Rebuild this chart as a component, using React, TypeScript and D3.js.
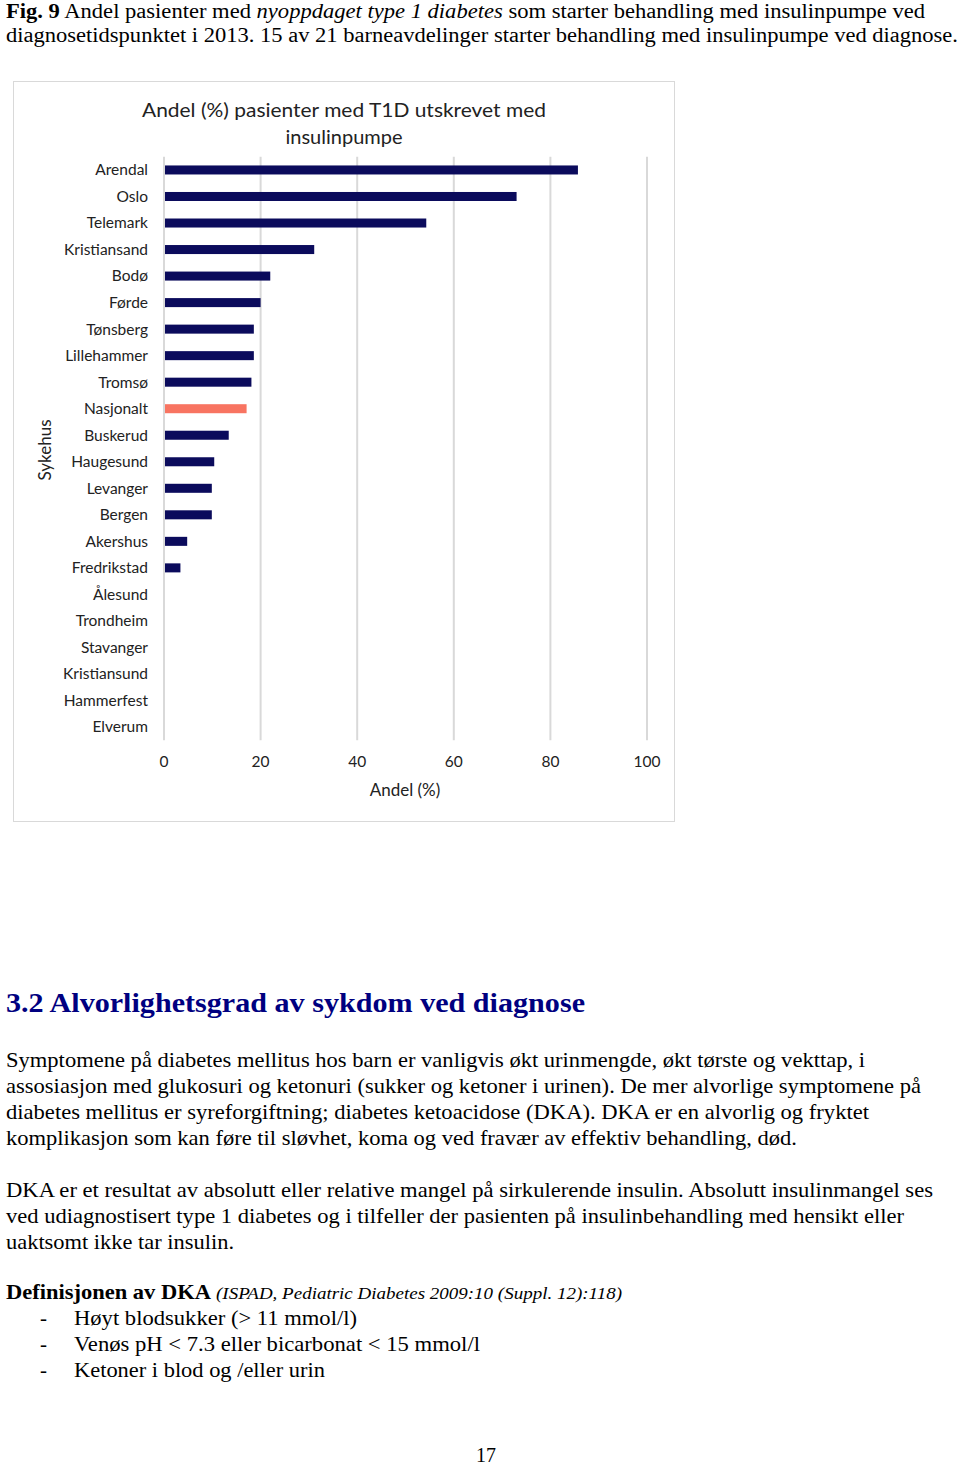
import React from "react";
import * as d3 from "d3";

const categories = [
  "Arendal", "Oslo", "Telemark", "Kristiansand", "Bodø", "Førde", "Tønsberg",
  "Lillehammer", "Tromsø", "Nasjonalt", "Buskerud", "Haugesund", "Levanger",
  "Bergen", "Akershus", "Fredrikstad", "Ålesund", "Trondheim", "Stavanger",
  "Kristiansund", "Hammerfest", "Elverum",
];
const values = [
  85.7, 73.0, 54.3, 31.1, 22.0, 20.0, 18.6, 18.6, 18.1, 17.1, 13.4, 10.4,
  9.9, 9.9, 4.8, 3.4, 0, 0, 0, 0, 0, 0,
];
const highlight = "Nasjonalt";
const xTicks = [0, 20, 40, 60, 80, 100];

const chartTitle = ["Andel (%) pasienter med T1D utskrevet med", "insulinpumpe"];
const xAxisTitle = "Andel (%)";
const yAxisTitle = "Sykehus";

const para1 = [
  "Symptomene på diabetes mellitus hos barn er vanligvis økt urinmengde, økt tørste og vekttap, i",
  "assosiasjon med glukosuri og ketonuri (sukker og ketoner i urinen). De mer alvorlige symptomene på",
  "diabetes mellitus er syreforgiftning; diabetes ketoacidose (DKA). DKA er en alvorlig og fryktet",
  "komplikasjon som kan føre til sløvhet, koma og ved fravær av effektiv behandling, død.",
];
const para1Widths = [859, 915, 863, 791];
const para2 = [
  "DKA er et resultat av absolutt eller relative mangel på sirkulerende insulin. Absolutt insulinmangel ses",
  "ved udiagnostisert type 1 diabetes og i tilfeller der pasienten på insulinbehandling med hensikt eller",
  "uaktsomt ikke tar insulin.",
];
const para2Widths = [927, 898, 228];
const listItems = [
  "Høyt blodsukker (> 11 mmol/l)",
  "Venøs pH < 7.3 eller bicarbonat < 15 mmol/l",
  "Ketoner i blod og /eller urin",
];
const listWidths = [283, 406, 251];

const SERIF = "'Liberation Serif', 'Times New Roman', serif";
const SANS = "Lato, Carlito, Calibri, sans-serif";

export default function App() {
  const x = d3.scaleLinear().domain([0, 100]).range([164, 647]);
  const y = d3
    .scaleBand<string>()
    .domain(categories)
    .range([156.7, 740.3])
    .paddingInner(0.66)
    .paddingOuter(0.33);

  return (
    <svg
      width={960}
      height={1468}
      style={{ position: "absolute", left: 0, top: 0, background: "#fff" }}
    >
      <rect x={0} y={0} width={960} height={1468} fill="#fff" />
      {/* Caption */}
      <text x={6} y={18} fontFamily={SERIF} fontSize={20} textLength={919} lengthAdjust="spacingAndGlyphs">
        <tspan fontWeight="bold">Fig. 9</tspan>
        <tspan> Andel pasienter med </tspan>
        <tspan fontStyle="italic">nyoppdaget type 1 diabetes</tspan>
        <tspan> som starter behandling med insulinpumpe ved</tspan>
      </text>
      <text x={6} y={42} fontFamily={SERIF} fontSize={20.5} textLength={952} lengthAdjust="spacingAndGlyphs">
        diagnosetidspunktet i 2013. 15 av 21 barneavdelinger starter behandling med insulinpumpe ved diagnose.
      </text>

      {/* Chart box */}
      <rect x={13.5} y={81.5} width={661} height={740} fill="#fff" stroke="#d9d9d9" strokeWidth={1} />
      <text x={344} y={117} textAnchor="middle" fontFamily={SANS} fontSize={20} fill="#222" textLength={404} lengthAdjust="spacingAndGlyphs">
        {chartTitle[0]}
      </text>
      <text x={344} y={144} textAnchor="middle" fontFamily={SANS} fontSize={20} fill="#222">
        {chartTitle[1]}
      </text>

      {/* Gridlines */}
      {xTicks.map((t) => (
        <line
          key={"g" + t}
          x1={x(t)}
          x2={x(t)}
          y1={156.7}
          y2={740.3}
          stroke="#d9d9d9"
          strokeWidth={2}
        />
      ))}

      {/* Bars */}
      {categories.map((c, i) => (
        <rect
          key={c}
          x={x(0) + 1}
          y={y(c)}
          width={Math.max(0, x(values[i]) - x(0) - 1)}
          height={y.bandwidth()}
          fill={c === highlight ? "#f87461" : "#0b0b5c"}
        />
      ))}

      {/* Category labels */}
      {categories.map((c) => (
        <text
          key={"l" + c}
          x={148}
          y={(y(c) as number) + y.bandwidth() / 2}
          dy="0.35em"
          textAnchor="end"
          fontFamily={SANS}
          fontSize={15.5}
          fill="#222"
        >
          {c}
        </text>
      ))}

      {/* X ticks */}
      {xTicks.map((t) => (
        <text
          key={"t" + t}
          x={x(t)}
          y={762}
          dy="0.35em"
          textAnchor="middle"
          fontFamily={SANS}
          fontSize={15.5}
          fill="#222"
        >
          {t}
        </text>
      ))}
      <text x={405} y={790} dy="0.35em" textAnchor="middle" fontFamily={SANS} fontSize={17} fill="#222">
        {xAxisTitle}
      </text>
      <text
        transform="translate(45,450) rotate(-90)"
        dy="0.35em"
        textAnchor="middle"
        fontFamily={SANS}
        fontSize={17}
        fill="#222"
      >
        {yAxisTitle}
      </text>

      {/* Heading */}
      <text x={6} y={1012} fontFamily={SERIF} fontSize={28} fontWeight="bold" fill="#000080" textLength={579} lengthAdjust="spacingAndGlyphs">
        3.2 Alvorlighetsgrad av sykdom ved diagnose
      </text>

      {/* Paragraph 1 */}
      {para1.map((line, i) => (
        <text key={"p1" + i} x={6} y={1067 + i * 26} fontFamily={SERIF} fontSize={21} textLength={para1Widths[i]} lengthAdjust="spacingAndGlyphs">
          {line}
        </text>
      ))}
      {/* Paragraph 2 */}
      {para2.map((line, i) => (
        <text key={"p2" + i} x={6} y={1197 + i * 26} fontFamily={SERIF} fontSize={21} textLength={para2Widths[i]} lengthAdjust="spacingAndGlyphs">
          {line}
        </text>
      ))}

      {/* Definition */}
      <text x={6} y={1299} fontFamily={SERIF} fontSize={21} fontWeight="bold" textLength={205} lengthAdjust="spacingAndGlyphs">
        Definisjonen av DKA
      </text>
      <text x={216} y={1299} fontFamily={SERIF} fontSize={17} fontStyle="italic" textLength={406} lengthAdjust="spacingAndGlyphs">
        (ISPAD, Pediatric Diabetes 2009:10 (Suppl. 12):118)
      </text>
      {listItems.map((item, i) => (
        <g key={"li" + i}>
          <text x={40} y={1325 + i * 26} fontFamily={SERIF} fontSize={21}>
            -
          </text>
          <text x={74} y={1325 + i * 26} fontFamily={SERIF} fontSize={21} textLength={listWidths[i]} lengthAdjust="spacingAndGlyphs">
            {item}
          </text>
        </g>
      ))}

      {/* Page number */}
      <text x={486} y={1462} textAnchor="middle" fontFamily={SERIF} fontSize={20}>
        17
      </text>
    </svg>
  );
}
